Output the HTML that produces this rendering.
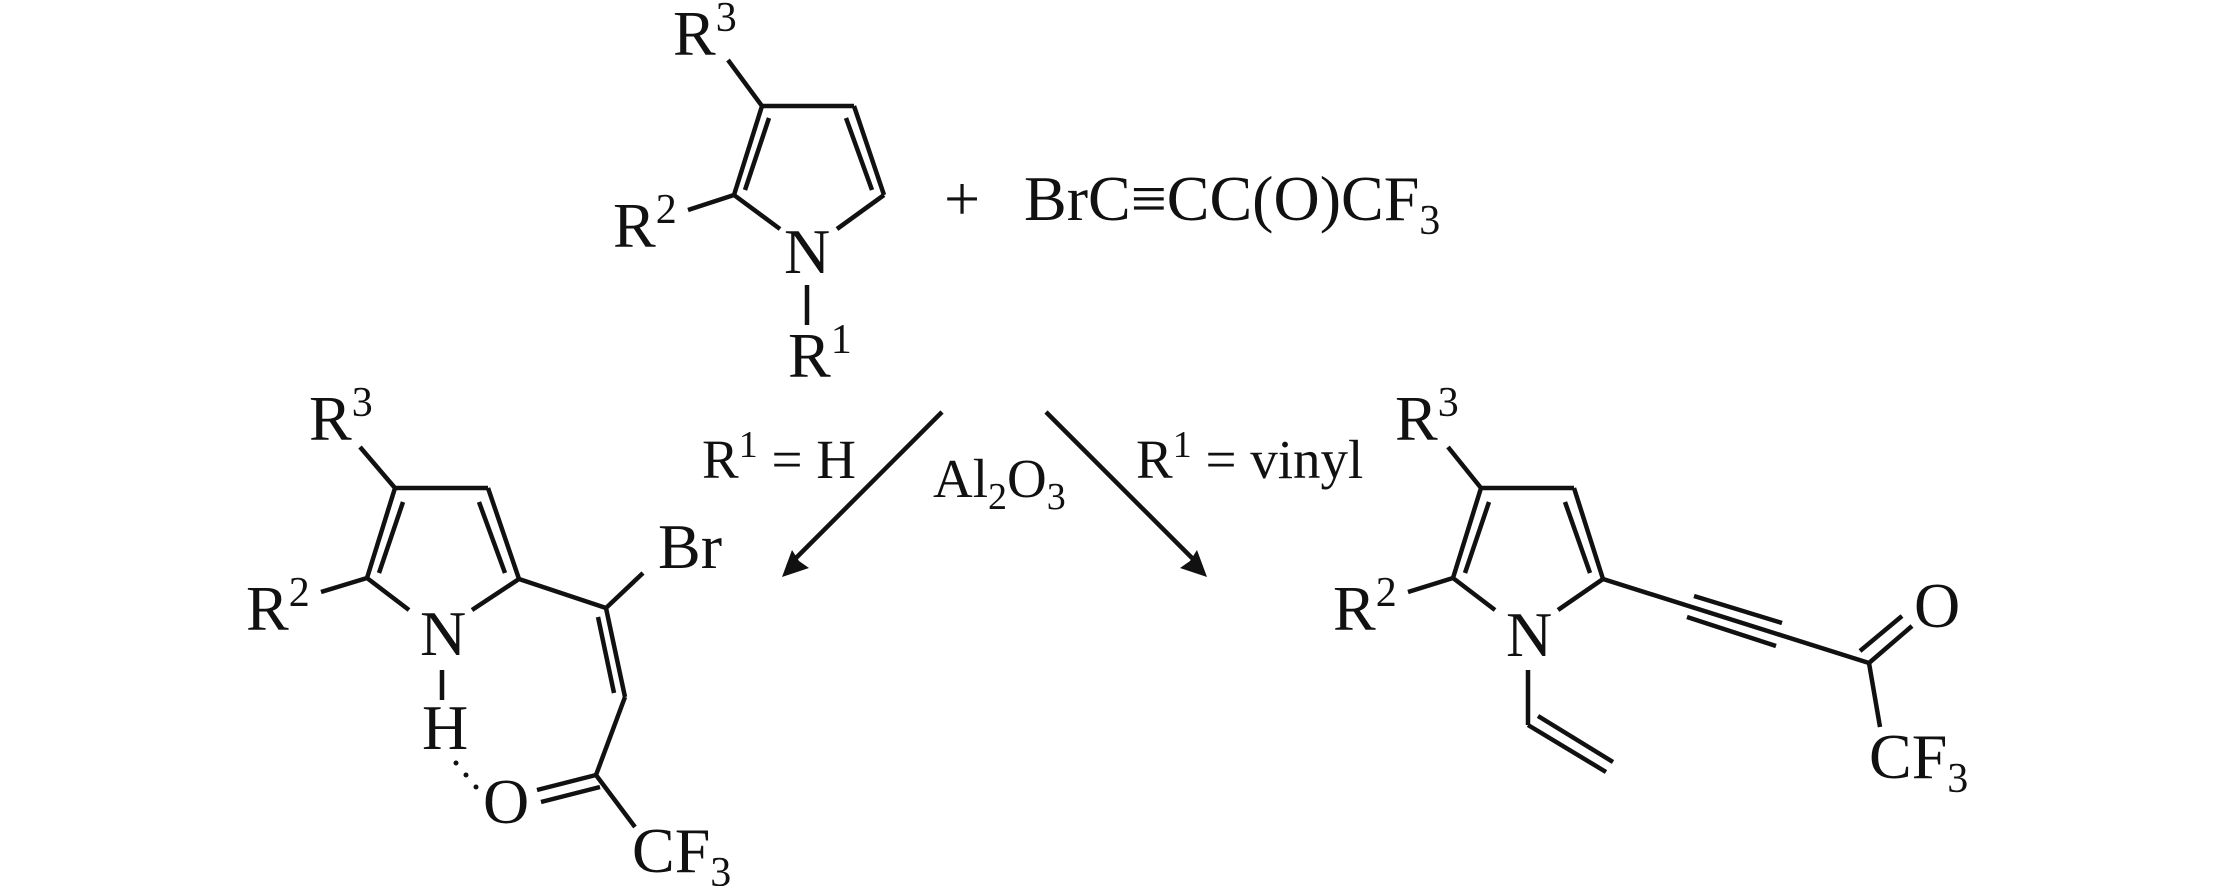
<!DOCTYPE html>
<html><head><meta charset="utf-8"><style>
html,body{margin:0;padding:0;background:#fff;}
svg{display:block;}
text{font-family:"Liberation Serif",serif;font-size:64px;fill:#111;}
.s{font-size:42px;}
</style></head><body>
<svg width="2213" height="886" viewBox="0 0 2213 886" xmlns="http://www.w3.org/2000/svg">
<g stroke="#111" stroke-width="4.5" fill="none" stroke-linecap="butt">
<line x1="728" y1="60" x2="762" y2="106"/>
<line x1="762" y1="106" x2="854" y2="106"/>
<line x1="854" y1="106" x2="884" y2="195"/>
<line x1="846" y1="118" x2="872" y2="190"/>
<line x1="884" y1="195" x2="837" y2="229"/>
<line x1="762" y1="106" x2="734" y2="195"/>
<line x1="769" y1="118" x2="745" y2="190"/>
<line x1="734" y1="195" x2="780" y2="229"/>
<line x1="734" y1="195" x2="688" y2="210"/>
<line x1="807" y1="285" x2="807" y2="325"/>
<line x1="942" y1="412" x2="788" y2="566"/>
<line x1="1046" y1="412" x2="1200" y2="566"/>
<line x1="360" y1="447" x2="395" y2="488"/>
<line x1="395" y1="488" x2="488" y2="488"/>
<line x1="488" y1="488" x2="519" y2="579"/>
<line x1="479" y1="502" x2="505" y2="573"/>
<line x1="395" y1="488" x2="367" y2="578"/>
<line x1="403" y1="502" x2="379" y2="573"/>
<line x1="367" y1="578" x2="409" y2="610"/>
<line x1="519" y1="579" x2="472" y2="610"/>
<line x1="367" y1="578" x2="321" y2="592"/>
<line x1="442" y1="670" x2="442" y2="700"/>
<line x1="519" y1="579" x2="606" y2="608"/>
<line x1="606" y1="608" x2="643" y2="573"/>
<line x1="606" y1="608" x2="625" y2="697"/>
<line x1="598" y1="617" x2="614" y2="693"/>
<line x1="625" y1="697" x2="596" y2="775"/>
<line x1="596" y1="775" x2="537" y2="790"/>
<line x1="600" y1="787" x2="541" y2="802"/>
<line x1="596" y1="775" x2="635" y2="827"/>
<line x1="1448" y1="447" x2="1481" y2="488"/>
<line x1="1481" y1="488" x2="1574" y2="488"/>
<line x1="1574" y1="488" x2="1603" y2="579"/>
<line x1="1565" y1="502" x2="1590" y2="573"/>
<line x1="1481" y1="488" x2="1453" y2="578"/>
<line x1="1489" y1="502" x2="1465" y2="573"/>
<line x1="1453" y1="578" x2="1495" y2="610"/>
<line x1="1603" y1="579" x2="1558" y2="610"/>
<line x1="1453" y1="578" x2="1408" y2="592"/>
<line x1="1528" y1="670" x2="1528" y2="725"/>
<line x1="1528" y1="725" x2="1606" y2="772"/>
<line x1="1538" y1="716" x2="1613" y2="762"/>
<line x1="1603" y1="579" x2="1869" y2="663"/>
<line x1="1694" y1="596" x2="1782" y2="623"/>
<line x1="1687" y1="617" x2="1776" y2="646"/>
<line x1="1869" y1="663" x2="1912" y2="626"/>
<line x1="1860" y1="651" x2="1902" y2="616"/>
<line x1="1869" y1="663" x2="1880" y2="727"/>
</g>
<polygon points="782,577 792,550 799,561 809,568" fill="#111"/>
<polygon points="1207,577 1180,568 1190,561 1197,550" fill="#111"/>
<g fill="#111"><circle cx="456" cy="763" r="2.5"/><circle cx="466" cy="775" r="2.5"/><circle cx="476" cy="787" r="2.5"/></g>
<text x="673" y="55">R<tspan class="s" dy="-24">3</tspan></text>
<text x="613" y="247">R<tspan class="s" dy="-24">2</tspan></text>
<text x="784" y="273">N</text>
<text x="788" y="377">R<tspan class="s" dy="-24">1</tspan></text>
<text x="944" y="220">+</text>
<text x="1024" y="220">BrC≡CC(O)CF<tspan class="s" dy="14">3</tspan></text>
<text x="702" y="478" style="font-size:55px">R<tspan class="s" style="font-size:38px" dy="-21">1</tspan><tspan dy="21"> = H</tspan></text>
<text x="933" y="497" style="font-size:55px">Al<tspan class="s" style="font-size:38px" dy="12">2</tspan><tspan dy="-12">O</tspan><tspan class="s" style="font-size:38px" dy="12">3</tspan></text>
<text x="1136" y="478" style="font-size:55px">R<tspan class="s" style="font-size:38px" dy="-21">1</tspan><tspan dy="21"> = vinyl</tspan></text>
<text x="309" y="440">R<tspan class="s" dy="-24">3</tspan></text>
<text x="246" y="630">R<tspan class="s" dy="-24">2</tspan></text>
<text x="420" y="655">N</text>
<text x="422" y="749">H</text>
<text x="483" y="823">O</text>
<text x="658" y="568">Br</text>
<text x="632" y="872">CF<tspan class="s" dy="14">3</tspan></text>
<text x="1395" y="440">R<tspan class="s" dy="-24">3</tspan></text>
<text x="1333" y="630">R<tspan class="s" dy="-24">2</tspan></text>
<text x="1506" y="656">N</text>
<text x="1914" y="627">O</text>
<text x="1869" y="778">CF<tspan class="s" dy="14">3</tspan></text>
</svg>
</body></html>
